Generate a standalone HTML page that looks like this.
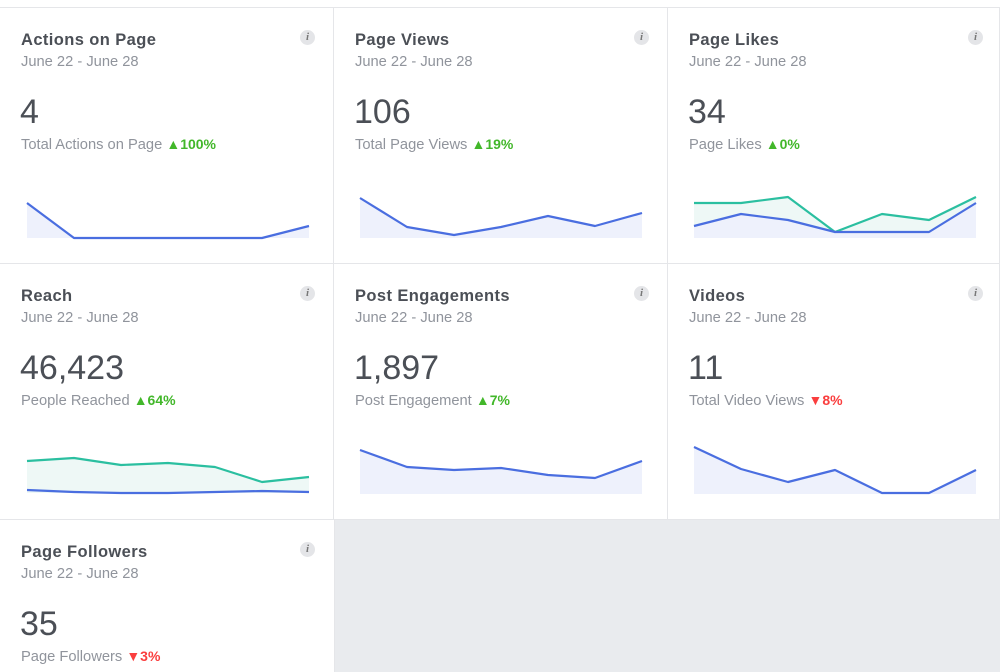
<!DOCTYPE html>
<html><head><meta charset="utf-8"><style>
html,body{margin:0;padding:0;width:1000px;height:672px;overflow:hidden;background:#e9ebee;font-family:"Liberation Sans",Arial,sans-serif;position:relative}
.c{position:absolute;background:#fff;box-sizing:border-box;border-right:1px solid #e5e6e9;border-bottom:1px solid #e5e6e9}
.t{position:absolute;left:21px;top:23px;font-size:16.5px;font-weight:bold;color:#4b4f56;letter-spacing:0.4px}
.d{position:absolute;left:21px;top:46px;font-size:14.7px;color:#90949c}
.n{position:absolute;left:20px;top:85px;font-size:34px;color:#4b4f56}
.s{position:absolute;left:21px;top:128px;font-size:14.7px;color:#90949c}
.up{color:#42b72a;font-weight:bold;font-size:14px}
.dn{color:#fa3e3e;font-weight:bold;font-size:14px}
.i{position:absolute;left:300px;top:22px;width:15px;height:15px;border-radius:50%;background:#e4e5e8;color:#777;font:italic bold 11px "Liberation Serif",serif;text-align:center;line-height:15px}
</style></head><body>
<div style="position:absolute;left:0;top:0;width:1000px;height:8px;background:#fff;border-bottom:1px solid #e5e6e9;box-sizing:border-box"></div>

<div class="c" style="left:0;top:8px;width:334px;height:256px"><div class="t">Actions on Page</div><div class="d">June 22 - June 28</div><div class="n">4</div><div class="s">Total Actions on Page <span class="up">▲100%</span></div><div class="i">i</div></div>
<div class="c" style="left:334px;top:8px;width:334px;height:256px"><div class="t">Page Views</div><div class="d">June 22 - June 28</div><div class="n">106</div><div class="s">Total Page Views <span class="up">▲19%</span></div><div class="i">i</div></div>
<div class="c" style="left:668px;top:8px;width:332px;height:256px"><div class="t">Page Likes</div><div class="d">June 22 - June 28</div><div class="n">34</div><div class="s">Page Likes <span class="up">▲0%</span></div><div class="i">i</div></div>

<div class="c" style="left:0;top:264px;width:334px;height:256px"><div class="t">Reach</div><div class="d">June 22 - June 28</div><div class="n">46,423</div><div class="s">People Reached <span class="up">▲64%</span></div><div class="i">i</div></div>
<div class="c" style="left:334px;top:264px;width:334px;height:256px"><div class="t">Post Engagements</div><div class="d">June 22 - June 28</div><div class="n">1,897</div><div class="s">Post Engagement <span class="up">▲7%</span></div><div class="i">i</div></div>
<div class="c" style="left:668px;top:264px;width:332px;height:256px"><div class="t">Videos</div><div class="d">June 22 - June 28</div><div class="n">11</div><div class="s">Total Video Views <span class="dn">▼8%</span></div><div class="i">i</div></div>

<div class="c" style="left:0;top:520px;width:335px;height:160px"><div class="t">Page Followers</div><div class="d">June 22 - June 28</div><div class="n">35</div><div class="s">Page Followers <span class="dn">▼3%</span></div><div class="i">i</div></div>

<svg width="1000" height="672" style="position:absolute;left:0;top:0" fill="none" stroke-width="2.2" stroke-linejoin="round">
<polygon points="27,203 74,238 121,238 168,238 215,238 262,238 309,226 309,238 27,238" fill="#eef1fc" stroke="none"/>
<polyline points="27,203 74,238 121,238 168,238 215,238 262,238 309,226" stroke="#4a6ee0"/>
<polygon points="360,198 407,227 454,235 501,227 548,216 595,226 642,213 642,238 360,238" fill="#eef1fc" stroke="none"/>
<polyline points="360,198 407,227 454,235 501,227 548,216 595,226 642,213" stroke="#4a6ee0"/>
<polygon points="694,203 741,203 788,197 835,232 882,214 929,220 976,197 976,238 694,238" fill="#eef8f6" stroke="none"/>
<polygon points="694,226 741,214 788,220 835,232 882,232 929,232 976,203 976,238 694,238" fill="#eef1fc" stroke="none"/>
<polyline points="694,203 741,203 788,197 835,232 882,214 929,220 976,197" stroke="#2bbfa0"/>
<polyline points="694,226 741,214 788,220 835,232 882,232 929,232 976,203" stroke="#4a6ee0"/>
<polygon points="27,461 74,458 121,465 168,463 215,467 262,482 309,477 309,493 27,493" fill="#eef8f6" stroke="none"/>
<polyline points="27,461 74,458 121,465 168,463 215,467 262,482 309,477" stroke="#2bbfa0"/>
<polyline points="27,490 74,492 121,493 168,493 215,492 262,491 309,492" stroke="#4a6ee0"/>
<polygon points="360,450 407,467 454,470 501,468 548,475 595,478 642,461 642,494 360,494" fill="#eef1fc" stroke="none"/>
<polyline points="360,450 407,467 454,470 501,468 548,475 595,478 642,461" stroke="#4a6ee0"/>
<polygon points="694,447 741,469 788,482 835,470 882,493 929,493 976,470 976,494 694,494" fill="#eef1fc" stroke="none"/>
<polyline points="694,447 741,469 788,482 835,470 882,493 929,493 976,470" stroke="#4a6ee0"/>
</svg>
</body></html>
